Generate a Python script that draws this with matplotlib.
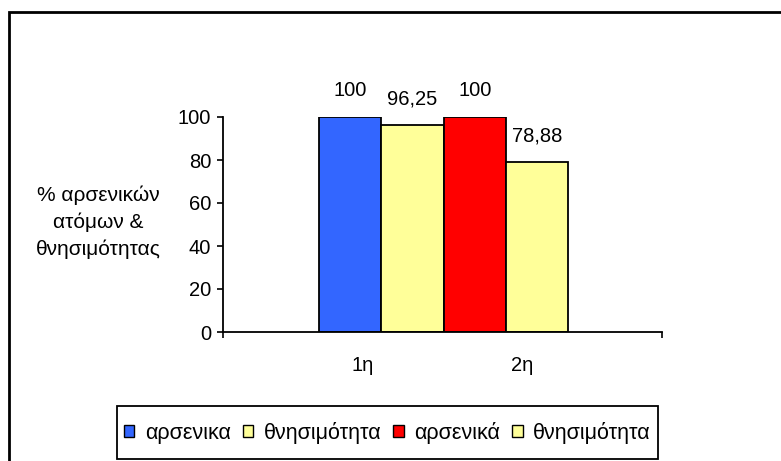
import matplotlib
matplotlib.use("Agg")
import matplotlib.pyplot as plt
from matplotlib.patches import Rectangle, Patch
import numpy as np

plt.rcParams['font.family'] = ['Liberation Sans', 'DejaVu Sans']

series_names = ["αρσενικα", "θνησιμότητα", "αρσενικά", "θνησιμότητα"]
values = [100, 96.25, 100, 78.88]
value_labels = ["100", "96,25", "100", "78,88"]
colors = ["#3366FF", "#FFFF99", "#FF0000", "#FFFF99"]
categories = ["1η", "2η"]
yticks = [0, 20, 40, 60, 80, 100]
ylabel = "% αρσενικών\nατόμων &\nθνησιμότητας"

FS = 14.5
W, H = 781, 461
fig = plt.figure(figsize=(W / 100, H / 100), dpi=100)
ax = fig.add_axes([223 / W, 1 - 332 / H, 439 / W, 215 / H])

x = np.arange(len(values))
bars = ax.bar(x, values, width=1.0, color=colors, edgecolor="black", linewidth=1.3)

for b, lab in zip(bars, value_labels):
    ax.annotate(lab, (b.get_x() + b.get_width() / 2, b.get_height()),
                xytext=(0, 19), textcoords="offset points",
                ha="center", va="center", fontsize=FS)

xl, xr = -2.04, 5.0
ax.set_xlim(xl, xr)
ax.set_ylim(0, 100)
ax.set_yticks(yticks)
ax.set_yticklabels([str(t) for t in yticks], fontsize=FS)
ax.tick_params(axis="y", direction="out", length=4.5, width=1.2, pad=4)

ax.set_xticks([xl, xr])
ax.set_xticklabels(["", ""])
ax.tick_params(axis="x", which="major", direction="out", length=4.5, width=1.2)
ax.set_xticks([0.2, 2.76], minor=True)
ax.set_xticklabels(categories, minor=True, fontsize=FS)
ax.tick_params(axis="x", which="minor", length=0, pad=17)

for s in ["top", "right"]:
    ax.spines[s].set_visible(False)
for s in ["left", "bottom"]:
    ax.spines[s].set_linewidth(1.3)
    ax.spines[s].set_color("black")

fig.text(98 / W, 1 - 222 / H, ylabel, ha="center", va="center",
         fontsize=15, linespacing=1.5, multialignment="center")

handles = [Patch(facecolor=c, edgecolor="black", linewidth=1.0) for c in colors]
leg = fig.legend(handles, series_names, loc="center", ncol=4,
                 bbox_to_anchor=(387.5 / W, 1 - 432.5 / H), fontsize=15.5,
                 frameon=False,
                 handlelength=0.48, handleheight=0.48, handletextpad=0.5,
                 columnspacing=0.55, borderpad=0.3, borderaxespad=0)

# legend frame
fig.patches.append(Rectangle((117 / W, 1 - 459 / H), 541 / W, 53 / H,
                             transform=fig.transFigure, fill=False,
                             edgecolor="black", linewidth=1.3))

# outer chart frame
fig.patches.append(Rectangle((9 / W, -0.2), 1.5, 1.2 - 12 / H,
                             transform=fig.transFigure, fill=False,
                             edgecolor="black", linewidth=2, clip_on=False))

fig.savefig("out.png", dpi=100)
